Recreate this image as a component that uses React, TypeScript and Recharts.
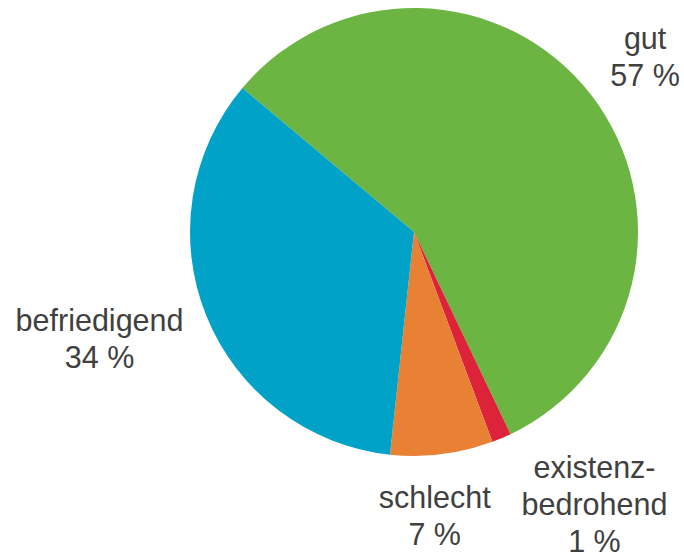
import React from "react";
import { PieChart, Pie, Cell } from "recharts";

const categories = ["gut", "existenz-\nbedrohend", "schlecht", "befriedigend"];
const values = [56.8, 1.4, 7.4, 34.4];
const percentLabels = ["57 %", "1 %", "7 %", "34 %"];
const colors = ["#6DB543", "#DC2339", "#E98134", "#00A2C8"];

// label layout: distance from pie center and angle shift (deg) from slice mid-angle
const labelDist = [290, 327, 285, 332];
const labelAngleShift = [-0.6, 10.5, -3, -3.2];

const FS = 30.5;
const LH = 37;

const data = categories.map((c, i) => ({ name: c, value: values[i], pct: percentLabels[i] }));

const renderLabel = (props: any) => {
  const { cx, cy, midAngle, index } = props;
  const ang = ((midAngle + labelAngleShift[index]) * Math.PI) / 180;
  const r = labelDist[index];
  const x = cx + r * Math.cos(ang);
  const y = cy - r * Math.sin(ang);
  const lines = [...categories[index].split("\n"), percentLabels[index]];
  const firstBaseline = y - ((lines.length - 1) * LH) / 2 + 0.35 * FS;
  return (
    <text
      x={x}
      y={firstBaseline}
      textAnchor="middle"
      fill="#404040"
      fontSize={FS}
      fontFamily="'Liberation Sans', Arial, sans-serif"
    >
      {lines.map((l, i) => (
        <tspan key={i} x={x} y={firstBaseline + i * LH}>
          {l}
        </tspan>
      ))}
    </text>
  );
};

export default function App() {
  return (
    <div style={{ position: "absolute", left: 0, top: 0, width: 684, height: 556, background: "#fff" }}>
      <PieChart width={684} height={556} margin={{ top: 0, right: 0, bottom: 0, left: 0 }}>
        <Pie
          data={data}
          dataKey="value"
          nameKey="name"
          cx={414}
          cy={232}
          outerRadius={224}
          startAngle={140}
          endAngle={-220}
          stroke="none"
          label={renderLabel}
          labelLine={false}
          isAnimationActive={false}
        >
          {data.map((d, i) => (
            <Cell key={i} fill={colors[i]} />
          ))}
        </Pie>
      </PieChart>
    </div>
  );
}
